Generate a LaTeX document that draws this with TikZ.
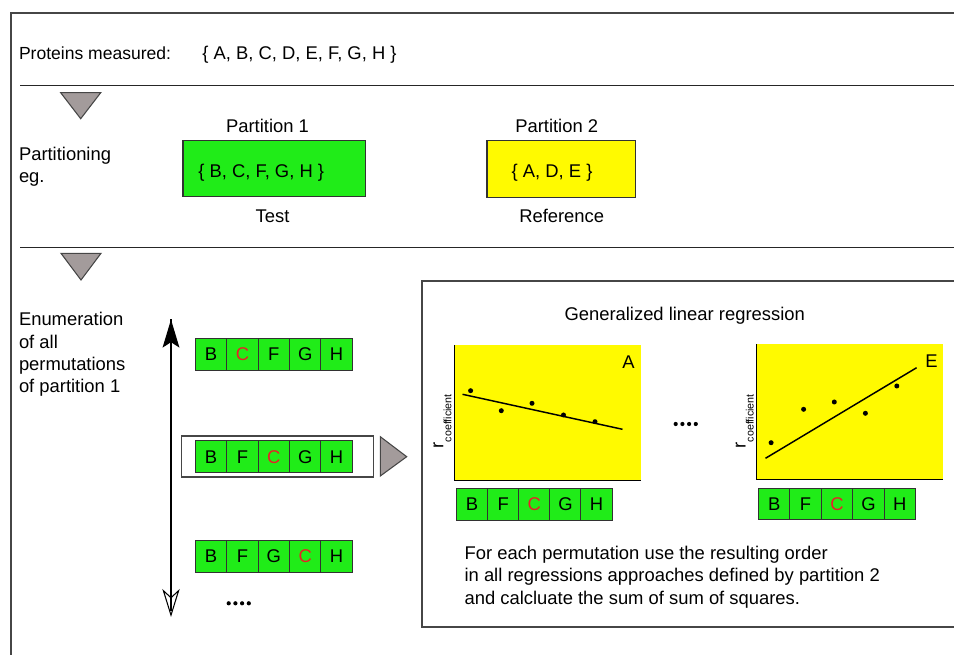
\documentclass[tikz,border=0pt]{standalone}
\usepackage{fontspec}
\setmainfont{Liberation Sans}
\usetikzlibrary{arrows.meta}
\definecolor{pgreen}{RGB}{32,236,24}
\definecolor{pyellow}{RGB}{255,250,0}
\definecolor{trifill}{RGB}{163,155,155}
\definecolor{pred}{RGB}{235,30,40}
\definecolor{framec}{RGB}{70,70,70}
\definecolor{cellb}{RGB}{50,50,50}
\begin{document}
\begin{tikzpicture}[x=0.75pt,y=-0.75pt,
  every node/.style={inner sep=0pt, outer sep=0pt, font=\fontsize{13.8}{16}\selectfont},
  cell/.style={draw=cellb, line width=0.8pt, fill=pgreen, minimum width=23.55pt, minimum height=23.6pt},
  txt/.style={anchor=base west},
  ctxt/.style={anchor=base},
  marker/.style={fill=trifill, draw=framec, line width=0.8pt, line join=miter},
  sepline/.style={draw=black!85, line width=1.1pt},
  framel/.style={draw=framec, line width=1.5pt},
  axis/.style={draw=black, line width=1.1pt},
  fitline/.style={draw=black, line width=1.1pt},
  pdot/.style={fill=black},
  plotbg/.style={fill=pyellow, draw=none}
]
\useasboundingbox (0,0) rectangle (954,655);

% outer frame and separators
\draw[framel] (955,12.7) -- (11,12.7) -- (11,656);
\draw[sepline] (20,85.3) -- (955,85.3);
\draw[sepline] (20,247.3) -- (955,247.3);

% proteins line
\node[txt, font=\fontsize{13.15}{16}\selectfont] (prot) at (19,59.3) {Proteins measured:};
\node[txt] (protset) at (202.3,59.3) {\{ A, B, C, D, E, F, G, H \}};

% markers
\draw[marker] (60.7,92.7) -- (100.7,92.7) -- (80.7,118.7) -- cycle;
\draw[marker] (61,253.3) -- (101,253.3) -- (81,280) -- cycle;

% partitioning
\node[txt] (parta) at (19,160.7) {Partitioning};
\node[txt] (partb) at (19,182.7) {eg.};
\node[ctxt] (p1lab) at (267.5,132.7) {Partition 1};
\node[fill=pgreen, draw=cellb, line width=0.9pt, minimum width=136.7pt, minimum height=42pt] (p1) at (274.15,168.3) {};
\node[txt] (p1t) at (198.3,177.7) {\{ B, C, F, G, H \}};
\node[ctxt] (test) at (272.5,222.3) {Test};
\node[ctxt] (p2lab) at (556.7,132.7) {Partition 2};
\node[fill=pyellow, draw=cellb, line width=0.9pt, minimum width=111.5pt, minimum height=42.75pt] (p2) at (561.35,168.8) {};
\node[txt] (p2t) at (511.7,177.7) {\{ A, D, E \}};
\node[ctxt] (ref) at (561.7,222.3) {Reference};

% enumeration label
\node[txt] (en1) at (19,326) {Enumeration};
\node[txt] (en2) at (19,348.3) {of all};
\node[txt] (en3) at (19,370.6) {permutations};
\node[txt] (en4) at (19,392.9) {of partition 1};

% vertical double arrow
\coordinate (arrtop) at (171,319.5);
\coordinate (arrin) at (171,611);
\coordinate (arrbot) at (171,617);
\draw[line width=1.5pt, {Stealth[length=21pt,width=12.5pt,inset=4pt]}-] (arrtop) -- (arrin);
\draw[line width=1.5pt, -{Stealth[open,length=21pt,width=13pt,inset=6pt,line width=0.8pt]}] (arrtop) -- (arrbot);

% permutation rows
\foreach \l/\c [count=\i] in {B/black,C/pred,F/black,G/black,H/black}
  \node[cell,text=\c] (ra\i) at ({195.3+31.4*\i-15.7},354.5) {\l};
\node[draw=framec, line width=1pt, minimum width=144pt, minimum height=30.75pt] (sel) at (277.7,456.5) {};
\foreach \l/\c [count=\i] in {B/black,F/black,C/pred,G/black,H/black}
  \node[cell,text=\c] (rb\i) at ({195.3+31.4*\i-15.7},456.7) {\l};
\foreach \l/\c [count=\i] in {B/black,F/black,G/black,C/pred,H/black}
  \node[cell,text=\c] (rc\i) at ({195.3+31.4*\i-15.7},556.5) {\l};
\draw[marker] (380.3,436.7) -- (406.7,456.7) -- (380.3,476) -- cycle;
\foreach \xx in {228.7,235.4,242.1,248.8} \fill (\xx,603.3) circle (2.1);

% regression box
\draw[framel] (955,281) -- (421.5,281) -- (421.5,627) -- (955,627);
\node[ctxt] (title) at (684.7,320.7) {Generalized linear regression};

% plot A
\path[plotbg] (453.7,345) rectangle (640.8,480.7);
\draw[axis] (454.3,345) -- (454.3,480.7) -- (640.8,480.7);
\node[ctxt] (plA) at (628.6,368.3) {A};
\draw[fitline] (462.5,394.3) -- (622.5,429.3);
\foreach \px/\py in {470.6/390.7,501.3/410.7,532/403.3,563.5/415,595/421.7}
  \fill[pdot] (\px,\py) circle (2.5);
\node[rotate=90, anchor=base west] (rA) at (443.3,448.3) {r\raisebox{-6pt}{\fontsize{8}{9}\selectfont coefficient}};
\foreach \l/\c [count=\i] in {B/black,F/black,C/pred,G/black,H/black}
  \node[cell,text=\c] (rd\i) at ({456.5+31.14*\i-15.57},504.6) {\l};

% dots between plots
\foreach \xx in {675.7,682.4,689.1,695.8} \fill (\xx,424) circle (2.1);

% plot E
\path[plotbg] (756,344) rectangle (942.7,479.3);
\draw[axis] (756.6,344) -- (756.6,479.3) -- (942.7,479.3);
\node[ctxt] (plE) at (931.5,367.3) {E};
\draw[fitline] (765.5,458.3) -- (916.6,367.7);
\foreach \px/\py in {771.1/442.7,803.6/409.3,834.3/402,865.4/413.3,896.8/386}
  \fill[pdot] (\px,\py) circle (2.5);
\node[rotate=90, anchor=base west] (rE) at (745.6,448.3) {r\raisebox{-6pt}{\fontsize{8}{9}\selectfont coefficient}};
\foreach \l/\c [count=\i] in {B/black,F/black,C/pred,G/black,H/black}
  \node[cell,text=\c] (re\i) at ({758.5+31.4*\i-15.7},503.8) {\l};

% explanation
\node[txt] (ex1) at (464.6,559.3) {For each permutation use the resulting order};
\node[txt] (ex2) at (464.6,581.8) {in all regressions approaches defined by partition 2};
\node[txt] (ex3) at (464.6,604.3) {and calcluate the sum of sum of squares.};
\end{tikzpicture}
\end{document}
